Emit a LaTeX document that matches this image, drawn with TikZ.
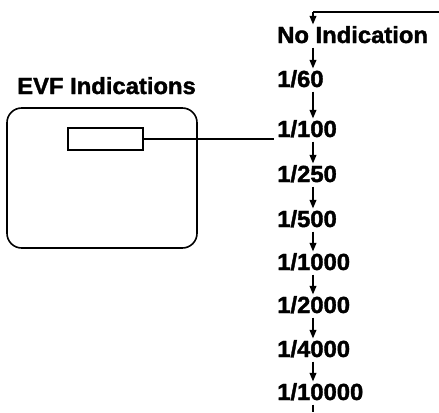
\documentclass[tikz,border=0pt]{standalone}
\usepackage{fontspec}
\setmainfont{Liberation Sans}[FakeStretch=1.02, FakeBold=1.6]
\usetikzlibrary{arrows.meta, positioning}

\begin{document}
\begin{tikzpicture}[x=0.75pt, y=-0.75pt,
                    speed/.style={anchor=base west, inner sep=0pt, font=\fontsize{17.5}{19}\selectfont\bfseries},
                    flow/.style={line width=1.3pt, -{Triangle[length=6.5pt, width=5pt]}},
                    link/.style={line width=1.3pt}]

    \useasboundingbox (0,0) rectangle (439,412);

    % Sucher mit Anzeigefeld
    \node[speed] (title) at (17,94) {EVF Indications};
    \node[draw, line width=1.2pt, rounded corners=11pt, minimum width=142.5pt, minimum height=105pt] (evf) at (102,178) {};
    \node[draw, line width=1.9pt, minimum width=56pt, minimum height=16.5pt, inner sep=0pt] (window) at (105.5,139) {};

    % Liste der Verschlusszeiten
    \node[speed] (none)   at (277,43)  {No Indication};
    \node[speed] (s60)    at (277,87)  {1/60};
    \node[speed] (s100)   at (277,137) {1/100};
    \node[speed] (s250)   at (277,182) {1/250};
    \node[speed] (s500)   at (277,227) {1/500};
    \node[speed] (s1000)  at (277,270) {1/1000};
    \node[speed] (s2000)  at (277,313) {1/2000};
    \node[speed] (s4000)  at (277,357) {1/4000};
    \node[speed] (s10000) at (277,400) {1/10000};

    \coordinate (stem)  at (313,0);
    \coordinate (loopR) at (439,12);
    \coordinate (loopL) at (313,12);
    \coordinate (loopB) at (313,412);

    \draw[link] (window.east) -- ([xshift=-2pt]window.east -| s100.west);

    \draw[link] (loopR) -- (loopL);
    \draw[flow] (loopL) -- ([yshift=1pt]none.north -| stem);
    \foreach \a/\b in {none/s60, s60/s100, s100/s250, s250/s500, s500/s1000, s1000/s2000, s2000/s4000, s4000/s10000}
        \draw[flow] ([yshift=-3pt]\a.south -| stem) -- ([yshift=1pt]\b.north -| stem);
    \draw[line width=1.3pt] ([yshift=-3pt]s10000.south -| stem) -- (loopB);

\end{tikzpicture}
\end{document}
